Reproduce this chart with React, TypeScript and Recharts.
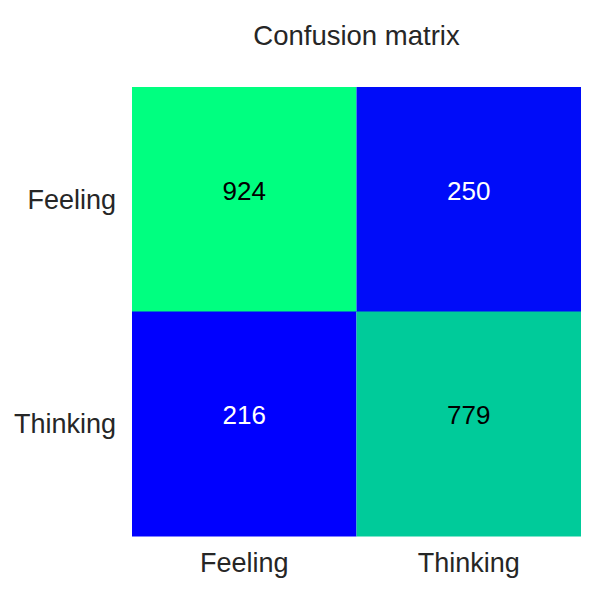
import { BarChart, Bar, XAxis, YAxis, Cell, LabelList } from "recharts";

const rowLabels = ["Feeling", "Thinking"];
const colLabels = ["Feeling", "Thinking"];
const countsFeeling = [924, 250];
const countsThinking = [216, 779];
const counts = [countsFeeling, countsThinking];

const FONT = '"Liberation Sans", Arial, Helvetica, sans-serif';
const TEXT = "#262626";

const allCounts = counts.flat();
const vmin = Math.min(...allCounts);
const vmax = Math.max(...allCounts);

// matplotlib "winter": blue -> spring green
function winter(v: number) {
  const f = (v - vmin) / (vmax - vmin);
  const g = Math.round(f * 255);
  const b = Math.round((1 - 0.5 * f) * 255);
  return `rgb(0,${g},${b})`;
}
function textColor(v: number) {
  return (v - vmin) / (vmax - vmin) > 0.5 ? "#000000" : "#ffffff";
}

// each cell takes one unit of width in its row
const data = rowLabels.map((row, i) => ({ row, c0: 1, c1: 1, idx: i }));

function makeLabel(col: number) {
  return (props: any) => {
    const { x, y, width, height, index } = props;
    const v = counts[index][col];
    return (
      <text
        x={x + width / 2}
        y={y + height / 2 - 9}
        textAnchor="middle"
        dominantBaseline="central"
        fontSize={26}
        fontFamily={FONT}
        fill={textColor(v)}
      >
        {v}
      </text>
    );
  };
}

export default function App() {
  return (
    <div style={{ position: "absolute", left: 0, top: 0, width: 600, height: 600, background: "#fff" }}>
      <div
        style={{
          position: "absolute",
          left: 132,
          width: 449,
          top: 22,
          lineHeight: "27px",
          fontSize: 27.5,
          fontFamily: FONT,
          color: TEXT,
          textAlign: "center",
        }}
      >
        Confusion matrix
      </div>
      <BarChart
        width={600}
        height={600}
        data={data}
        layout="vertical"
        barCategoryGap={0}
        margin={{ top: 87, right: 19, bottom: 24, left: 12 }}
      >
        <XAxis
          type="number"
          domain={[0, 2]}
          ticks={[0.5, 1.5]}
          tickFormatter={(t: number) => colLabels[Math.floor(t)]}
          height={40}
          axisLine={false}
          tickLine={false}
          tickSize={0}
          tickMargin={17}
          tick={{ fontSize: 27, fill: TEXT, fontFamily: FONT }}
          interval={0}
        />
        <YAxis
          type="category"
          dataKey="row"
          width={120}
          axisLine={false}
          tickLine={false}
          tickSize={0}
          tickMargin={16}
          tick={{ fontSize: 27, fill: TEXT, fontFamily: FONT }}
          interval={0}
        />
        <Bar dataKey="c0" stackId="m" isAnimationActive={false}>
          {data.map((d) => (
            <Cell key={d.row} fill={winter(counts[d.idx][0])} />
          ))}
          <LabelList dataKey="c0" content={makeLabel(0)} />
        </Bar>
        <Bar dataKey="c1" stackId="m" isAnimationActive={false}>
          {data.map((d) => (
            <Cell key={d.row} fill={winter(counts[d.idx][1])} />
          ))}
          <LabelList dataKey="c1" content={makeLabel(1)} />
        </Bar>
      </BarChart>
    </div>
  );
}
